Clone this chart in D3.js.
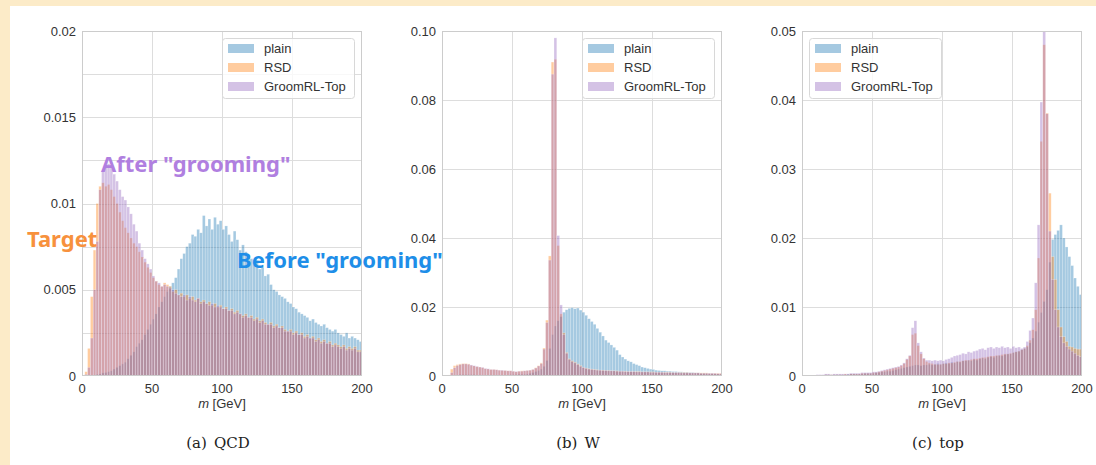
<!DOCTYPE html>
<html>
<head>
<meta charset="utf-8">
<script src="https://d3js.org/d3.v7.min.js"></script>
<style>
  body { margin: 0; background: #fcebc8; }
  svg { display: block; }
</style>
</head>
<body>
<div id="chart"></div>
<script>
// histogram bins: 100 bins of 2 GeV from 0 to 200
const binWidth = 2;
const massMax = 200;
const seriesNames = ['plain', 'RSD', 'GroomRL-Top'];
const seriesColors = ['#1f77b4', '#ff7f0e', '#9467bd'];
const xTicks = [0, 50, 100, 150, 200];

// (a) QCD
const qcdPlain = [
  0, 0, 0, 0, 0.00005, 0.0001, 0.00012, 0.00018, 0.0002, 0.00025,
  0.0003, 0.0004, 0.0005, 0.0006, 0.0007, 0.0008, 0.0010, 0.0012, 0.0014, 0.0017,
  0.0019, 0.0021, 0.0024, 0.0027, 0.0030, 0.0033, 0.0036, 0.0040, 0.0043, 0.0046,
  0.0049, 0.0052, 0.0054, 0.0057, 0.0062, 0.0068, 0.0071, 0.0075, 0.0077, 0.0082,
  0.0081, 0.0085, 0.0083, 0.0093, 0.0087, 0.0091, 0.0085, 0.0092, 0.0088, 0.0090,
  0.0085, 0.0087, 0.0082, 0.0078, 0.0084, 0.0079, 0.0073, 0.0076, 0.0072, 0.0070,
  0.0068, 0.0066, 0.0067, 0.0062, 0.0063, 0.0058, 0.0059, 0.0053, 0.0050, 0.0049,
  0.0047, 0.0046, 0.0045, 0.0043, 0.0042, 0.0040, 0.0039, 0.0037, 0.0036, 0.0035,
  0.0034, 0.0032, 0.0033, 0.0031, 0.0030, 0.0029, 0.0030, 0.0028, 0.0027, 0.0026,
  0.0027, 0.0025, 0.0024, 0.0023, 0.0025, 0.0022, 0.0023, 0.0022, 0.0021, 0.0020
];
const qcdRSD = [
  0, 0.00025, 0.0016, 0.0046, 0.0073, 0.0100, 0.0110, 0.0112, 0.0110, 0.0111,
  0.0108, 0.0104, 0.0100, 0.0095, 0.0090, 0.0086, 0.0083, 0.0080, 0.0077, 0.0075,
  0.0072, 0.0069, 0.0066, 0.0063, 0.0060, 0.0057, 0.0055, 0.0053, 0.0052, 0.0054,
  0.0053, 0.0052, 0.0049, 0.0050, 0.0047, 0.0048, 0.0046, 0.0047, 0.0045, 0.0046,
  0.0044, 0.0045, 0.0043, 0.0044, 0.0042, 0.0043, 0.0041, 0.0042, 0.0040, 0.0041,
  0.0039, 0.0040, 0.0038, 0.0039, 0.0037, 0.0038, 0.0036, 0.0035, 0.0036, 0.0034,
  0.0035, 0.0033, 0.0034, 0.0032, 0.0033, 0.0031, 0.0030, 0.0031, 0.0029, 0.0030,
  0.0028, 0.0029, 0.0027, 0.0026, 0.0027, 0.0025, 0.0026, 0.0024, 0.0025, 0.0023,
  0.0024, 0.0022, 0.0023, 0.0021, 0.0022, 0.0020, 0.0021, 0.0019, 0.0020, 0.0018,
  0.0019, 0.0018, 0.0017, 0.0018, 0.0016, 0.0017, 0.0016, 0.0017, 0.0015, 0.0015
];
const qcdGroom = [
  0, 0.0001, 0.0005, 0.0022, 0.0050, 0.0078, 0.0108, 0.0119, 0.0122, 0.0123,
  0.0122, 0.0117, 0.0113, 0.0108, 0.0104, 0.0102, 0.0098, 0.0094, 0.0088, 0.0084,
  0.0077, 0.0073, 0.0068, 0.0065, 0.0062, 0.0058, 0.0055, 0.0054, 0.0052, 0.0053,
  0.0052, 0.0051, 0.0050, 0.0048, 0.0047, 0.0046, 0.0047, 0.0044, 0.0046, 0.0044,
  0.0043, 0.0045, 0.0042, 0.0043, 0.0042, 0.0041, 0.0042, 0.0040, 0.0041, 0.0040,
  0.0039, 0.0039, 0.0038, 0.0038, 0.0036, 0.0037, 0.0036, 0.0034, 0.0035, 0.0034,
  0.0034, 0.0032, 0.0033, 0.0031, 0.0032, 0.0030, 0.0030, 0.0030, 0.0028, 0.0029,
  0.0028, 0.0028, 0.0026, 0.0026, 0.0026, 0.0024, 0.0025, 0.0024, 0.0024, 0.0022,
  0.0023, 0.0022, 0.0022, 0.0020, 0.0021, 0.0019, 0.0020, 0.0019, 0.0019, 0.0017,
  0.0018, 0.0017, 0.0016, 0.0017, 0.0015, 0.0016, 0.0015, 0.0016, 0.0014, 0.0014
];
const qcdYTicks = [0, 0.005, 0.01, 0.015, 0.02];
const qcdYTickLabels = ['0', '0.005', '0.01', '0.015', '0.02'];
const qcdYGrid = [0.0025, 0.005, 0.0075, 0.01, 0.0125, 0.015, 0.0175];

// (b) W
const wPlain = [
  0, 0, 0.0001, 0.0002, 0.0003, 0.0003, 0.0004, 0.0004, 0.0004, 0.0004,
  0.0004, 0.0004, 0.0003, 0.0003, 0.0003, 0.0003, 0.0003, 0.0003, 0.0003, 0.0003,
  0.0003, 0.0003, 0.0003, 0.0003, 0.0004, 0.0004, 0.0004, 0.0005, 0.0005, 0.0005,
  0.0006, 0.0008, 0.0010, 0.0013, 0.0016, 0.0020, 0.0028, 0.0045, 0.0080, 0.0120,
  0.0145, 0.0160, 0.0172, 0.0185, 0.0192, 0.0196, 0.0198, 0.0195, 0.0197, 0.0191,
  0.0185, 0.0176, 0.0166, 0.0158, 0.0150, 0.0138, 0.0127, 0.0116, 0.0104, 0.0097,
  0.0090, 0.0083, 0.0075, 0.0062, 0.0055, 0.0049, 0.0044, 0.0041, 0.0036, 0.0033,
  0.0030, 0.0026, 0.0024, 0.0022, 0.0020, 0.0019, 0.0017, 0.0016, 0.0015, 0.0015,
  0.0014, 0.0014, 0.0013, 0.0013, 0.0012, 0.0012, 0.0011, 0.0011, 0.0010, 0.0010,
  0.0009, 0.0009, 0.0008, 0.0008, 0.0008, 0.0007, 0.0007, 0.0006, 0.0006, 0.0005
];
const wRSD = [
  0, 0, 0.0003, 0.0020, 0.0030, 0.0033, 0.0035, 0.0036, 0.0036, 0.0035,
  0.0031, 0.0029, 0.0027, 0.0026, 0.0024, 0.0021, 0.0020, 0.0019, 0.0019, 0.0018,
  0.0017, 0.0016, 0.0016, 0.0015, 0.0015, 0.0014, 0.0012, 0.0014, 0.0015, 0.0015,
  0.0016, 0.0017, 0.0019, 0.0024, 0.0030, 0.0038, 0.0081, 0.0162, 0.0348, 0.0910,
  0.0918, 0.0378, 0.0180, 0.0125, 0.0068, 0.0050, 0.0044, 0.0040, 0.0035, 0.0030,
  0.0025, 0.0023, 0.0021, 0.0020, 0.0019, 0.0018, 0.0017, 0.0017, 0.0016, 0.0016,
  0.0015, 0.0015, 0.0015, 0.0014, 0.0014, 0.0014, 0.0013, 0.0013, 0.0013, 0.0013,
  0.0013, 0.0012, 0.0012, 0.0012, 0.0012, 0.0012, 0.0011, 0.0011, 0.0011, 0.0011,
  0.0011, 0.0011, 0.0010, 0.0010, 0.0010, 0.0010, 0.0010, 0.0010, 0.0009, 0.0009,
  0.0009, 0.0009, 0.0009, 0.0009, 0.0009, 0.0008, 0.0008, 0.0008, 0.0008, 0.0008
];
const wGroom = [
  0, 0, 0.0001, 0.0010, 0.0024, 0.0030, 0.0033, 0.0035, 0.0035, 0.0034,
  0.0032, 0.0030, 0.0028, 0.0026, 0.0025, 0.0022, 0.0021, 0.0019, 0.0019, 0.0018,
  0.0017, 0.0017, 0.0016, 0.0015, 0.0015, 0.0014, 0.0013, 0.0014, 0.0014, 0.0015,
  0.0016, 0.0017, 0.0019, 0.0023, 0.0029, 0.0036, 0.0078, 0.0155, 0.0336, 0.0875,
  0.0980, 0.0407, 0.0206, 0.0120, 0.0066, 0.0048, 0.0042, 0.0038, 0.0033, 0.0028,
  0.0025, 0.0022, 0.0020, 0.0019, 0.0018, 0.0017, 0.0017, 0.0016, 0.0016, 0.0015,
  0.0015, 0.0015, 0.0014, 0.0014, 0.0014, 0.0013, 0.0013, 0.0013, 0.0013, 0.0012,
  0.0012, 0.0012, 0.0012, 0.0012, 0.0011, 0.0011, 0.0011, 0.0011, 0.0011, 0.0010,
  0.0010, 0.0010, 0.0010, 0.0010, 0.0010, 0.0009, 0.0009, 0.0009, 0.0009, 0.0009,
  0.0009, 0.0009, 0.0008, 0.0008, 0.0008, 0.0008, 0.0008, 0.0008, 0.0007, 0.0007
];
const wYTicks = [0, 0.02, 0.04, 0.06, 0.08, 0.10];
const wYTickLabels = ['0', '0.02', '0.04', '0.06', '0.08', '0.10'];
const wYGrid = [0.02, 0.04, 0.06, 0.08];

// (c) top
const topPlain = [
  0, 0, 0, 0, 0.0001, 0.0001, 0.0001, 0.0001, 0.0002, 0.0002,
  0.0002, 0.0002, 0.0002, 0.0002, 0.0002, 0.0002, 0.0003, 0.0003, 0.0003, 0.0003,
  0.0003, 0.0003, 0.0004, 0.0004, 0.0004, 0.0004, 0.0005, 0.0005, 0.0006, 0.0006,
  0.0007, 0.0007, 0.0008, 0.0009, 0.0010, 0.0011, 0.0012, 0.0013, 0.0014, 0.0015,
  0.0016, 0.0016, 0.0015, 0.0016, 0.0016, 0.0017, 0.0016, 0.0017, 0.0018, 0.0017,
  0.0018, 0.0019, 0.0018, 0.0020, 0.0019, 0.0021, 0.0020, 0.0022, 0.0022, 0.0023,
  0.0022, 0.0024, 0.0023, 0.0025, 0.0026, 0.0025, 0.0027, 0.0028, 0.0027, 0.0029,
  0.0030, 0.0029, 0.0031, 0.0032, 0.0032, 0.0034, 0.0035, 0.0036, 0.0038, 0.0040,
  0.0042, 0.0048, 0.0055, 0.0065, 0.0078, 0.0092, 0.0108, 0.0125, 0.0165, 0.0198,
  0.0205, 0.0211, 0.0219, 0.0200, 0.0187, 0.0173, 0.0160, 0.0142, 0.0130, 0.0118
];
const topRSD = [
  0, 0, 0, 0, 0.0001, 0.0001, 0.0001, 0.0001, 0.0002, 0.0002,
  0.0002, 0.0002, 0.0002, 0.0002, 0.0002, 0.0003, 0.0002, 0.0003, 0.0003, 0.0003,
  0.0003, 0.0004, 0.0004, 0.0004, 0.0004, 0.0005, 0.0005, 0.0006, 0.0007, 0.0008,
  0.0009, 0.0010, 0.0011, 0.0012, 0.0013, 0.0015, 0.0018, 0.0024, 0.0029, 0.0060,
  0.0062, 0.0044, 0.0032, 0.0025, 0.0021, 0.0019, 0.0018, 0.0017, 0.0017, 0.0017,
  0.0018, 0.0018, 0.0019, 0.0019, 0.0020, 0.0021, 0.0021, 0.0022, 0.0023, 0.0023,
  0.0024, 0.0025, 0.0025, 0.0026, 0.0027, 0.0027, 0.0028, 0.0029, 0.0029, 0.0030,
  0.0030, 0.0031, 0.0032, 0.0032, 0.0033, 0.0034, 0.0035, 0.0036, 0.0038, 0.0040,
  0.0044, 0.0052, 0.0067, 0.0096, 0.0171, 0.0340, 0.0480, 0.0381, 0.0265, 0.0173,
  0.0140, 0.0096, 0.0071, 0.0057, 0.0050, 0.0043, 0.0042, 0.0040, 0.0039, 0.0039
];
const topGroom = [
  0, 0, 0, 0, 0.0001, 0.0002, 0.0002, 0.0002, 0.0003, 0.0003,
  0.0002, 0.0003, 0.0003, 0.0003, 0.0003, 0.0003, 0.0003, 0.0004, 0.0004, 0.0004,
  0.0004, 0.0005, 0.0005, 0.0005, 0.0005, 0.0006, 0.0006, 0.0007, 0.0008, 0.0009,
  0.0010, 0.0011, 0.0012, 0.0013, 0.0014, 0.0016, 0.0019, 0.0025, 0.0030, 0.0070,
  0.0080, 0.0048, 0.0035, 0.0026, 0.0023, 0.0023, 0.0022, 0.0023, 0.0022, 0.0023,
  0.0022, 0.0024, 0.0025, 0.0027, 0.0029, 0.0030, 0.0031, 0.0033, 0.0032, 0.0035,
  0.0034, 0.0036, 0.0037, 0.0039, 0.0040, 0.0038, 0.0041, 0.0042, 0.0040, 0.0042,
  0.0041, 0.0043, 0.0041, 0.0042, 0.0040, 0.0043, 0.0041, 0.0042, 0.0040, 0.0042,
  0.0050, 0.0066, 0.0084, 0.0135, 0.0219, 0.0397, 0.0499, 0.0380, 0.0210, 0.0140,
  0.0096, 0.0071, 0.0057, 0.0048, 0.0043, 0.0039, 0.0036, 0.0033, 0.0030, 0.0028
];
const topYTicks = [0, 0.01, 0.02, 0.03, 0.04, 0.05];
const topYTickLabels = ['0', '0.01', '0.02', '0.03', '0.04', '0.05'];
const topYGrid = [0.01, 0.02, 0.03, 0.04];

const width = 1096, height = 465;
const tickFont = '"Liberation Sans", Arial, sans-serif';

const svg = d3.select('#chart').append('svg')
    .attr('width', width)
    .attr('height', height);

// yellow page with white sheet
svg.append('rect').attr('width', width).attr('height', height).attr('fill', '#fcebc8');
svg.append('rect').attr('x', 10).attr('y', 6).attr('width', width - 10).attr('height', height - 6).attr('fill', '#ffffff');

function drawPanel(opts) {
    const w = 280, h = 345;
    const g = svg.append('g').attr('transform', `translate(${opts.left},31)`);

    const x = d3.scaleLinear().domain([0, massMax]).range([0, w]);
    const y = d3.scaleLinear().domain([0, opts.yMax]).range([h, 0]);

    // grid
    g.selectAll('.gy').data(opts.yGrid).enter().append('line')
        .attr('x1', 0).attr('x2', w)
        .attr('y1', d => Math.round(y(d)) + 0.5).attr('y2', d => Math.round(y(d)) + 0.5)
        .attr('stroke', '#dddddd').attr('stroke-width', 1);
    g.selectAll('.gx').data(xTicks.slice(1, -1)).enter().append('line')
        .attr('y1', 0).attr('y2', h)
        .attr('x1', d => Math.round(x(d)) + 0.5).attr('x2', d => Math.round(x(d)) + 0.5)
        .attr('stroke', '#dddddd').attr('stroke-width', 1);

    // histograms
    opts.series.forEach(function(vals, k) {
        g.append('g').selectAll('rect').data(vals).enter().append('rect')
            .attr('x', (d, i) => x(i * binWidth))
            .attr('width', x(binWidth) - x(0))
            .attr('y', d => y(Math.min(d, opts.yMax)))
            .attr('height', d => h - y(Math.min(d, opts.yMax)))
            .attr('fill', seriesColors[k])
            .attr('fill-opacity', 0.4)
            .attr('stroke', '#ffffff')
            .attr('stroke-opacity', 0.45)
            .attr('stroke-width', 0.5);
    });

    // frame
    g.append('rect').attr('x', 0.5).attr('y', 0.5).attr('width', w - 1).attr('height', h - 1)
        .attr('fill', 'none').attr('stroke', '#cccccc').attr('stroke-width', 1);

    // y tick labels
    g.selectAll('.yl').data(opts.yTicks).enter().append('text')
        .attr('x', -6).attr('y', d => y(d) + 4.5)
        .attr('text-anchor', 'end')
        .style('font-family', tickFont).style('font-size', '13px').attr('fill', '#333')
        .text((d, i) => opts.yTickLabels[i]);

    // x tick labels
    g.selectAll('.xl').data(xTicks).enter().append('text')
        .attr('x', d => x(d)).attr('y', h + 17)
        .attr('text-anchor', 'middle')
        .style('font-family', tickFont).style('font-size', '13px').attr('fill', '#333')
        .text(d => d);

    // x label
    const xl = g.append('text').attr('x', w / 2).attr('y', h + 32)
        .attr('text-anchor', 'middle')
        .style('font-family', tickFont).style('font-size', '13px').attr('fill', '#333');
    xl.append('tspan').style('font-style', 'italic').text('m');
    xl.append('tspan').text(' [GeV]');

    // caption
    const cap = g.append('text').attr('x', w / 2 - 4).attr('y', h + 72)
        .attr('text-anchor', 'middle')
        .style('font-family', '"DejaVu Serif", "Liberation Serif", serif').style('font-size', '15px').attr('fill', '#222');
    cap.append('tspan').text(opts.tag);
    cap.append('tspan').attr('dx', 7).text(opts.caption);

    // legend
    const lg = g.append('g').attr('transform', `translate(${opts.legendX},7)`);
    lg.append('rect').attr('x', 0.5).attr('y', 0.5).attr('width', 132).attr('height', 60).attr('rx', 3)
        .attr('fill', '#ffffff').attr('fill-opacity', 0.8).attr('stroke', '#d8d8d8');
    seriesNames.forEach(function(name, k) {
        lg.append('rect').attr('x', 6).attr('y', 6 + k * 19).attr('width', 26).attr('height', 9)
            .attr('fill', seriesColors[k]).attr('fill-opacity', 0.4);
        lg.append('text').attr('x', 42).attr('y', 15 + k * 19)
            .style('font-family', tickFont).style('font-size', '13px').attr('fill', '#333')
            .text(name);
    });
}

drawPanel({ left: 82, yMax: 0.02, series: [qcdPlain, qcdRSD, qcdGroom],
    yTicks: qcdYTicks, yTickLabels: qcdYTickLabels, yGrid: qcdYGrid,
    tag: '(a)', caption: 'QCD', legendX: 140 });
drawPanel({ left: 442, yMax: 0.10, series: [wPlain, wRSD, wGroom],
    yTicks: wYTicks, yTickLabels: wYTickLabels, yGrid: wYGrid,
    tag: '(b)', caption: 'W', legendX: 140 });
drawPanel({ left: 802, yMax: 0.05, series: [topPlain, topRSD, topGroom],
    yTicks: topYTicks, yTickLabels: topYTickLabels, yGrid: topYGrid,
    tag: '(c)', caption: 'top', legendX: 7 });

// annotations
const annFont = '"Noto Sans", "Open Sans", sans-serif';
svg.append('text').attr('x', 101).attr('y', 172)
    .style('font-family', annFont).style('font-size', '22px').style('font-weight', 'bold')
    .attr('fill', '#b07fe0').text('After "grooming"');
svg.append('text').attr('x', 27).attr('y', 247)
    .style('font-family', annFont).style('font-size', '22px').style('font-weight', 'bold')
    .attr('fill', '#f7913d').text('Target');
svg.append('text').attr('x', 237).attr('y', 268)
    .style('font-family', annFont).style('font-size', '22px').style('font-weight', 'bold')
    .attr('fill', '#1e8ee8').text('Before "grooming"');
</script>
</body>
</html>
